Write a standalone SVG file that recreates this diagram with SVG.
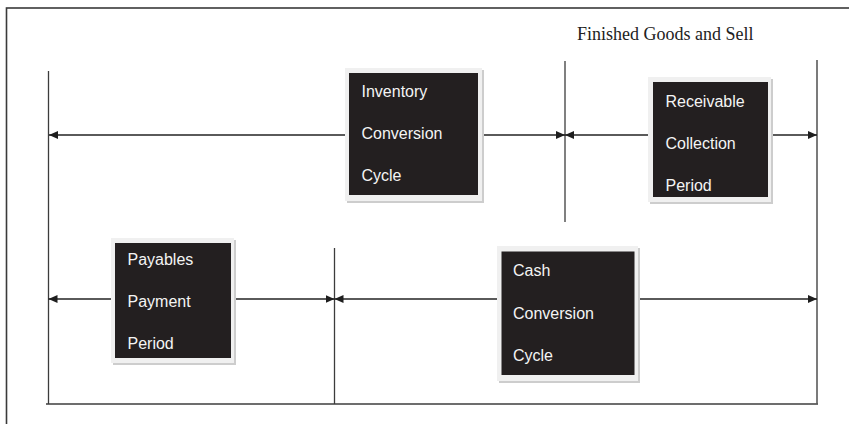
<svg xmlns="http://www.w3.org/2000/svg" width="849" height="424" viewBox="0 0 849 424">
<style>
.frame{fill:none;stroke:#3a3a3a;stroke-width:1.6}
.guide{fill:none;stroke:#3c3c3c;stroke-width:1.3}
.arrow{fill:none;stroke:#232323;stroke-width:1.5}
.halo{fill:#f0f0f0}
.shadow{fill:#cdcdcd}
.box{fill:#231f20}
.lbl{font-family:"Liberation Sans",Arial,sans-serif;font-size:16px;fill:#f4f4f4}
.title{font-family:"Liberation Serif","Times New Roman",serif;font-size:18px;fill:#222}
</style>
<defs>
<marker id="ah" markerUnits="userSpaceOnUse" markerWidth="10" markerHeight="9" refX="9" refY="4.5" orient="auto">
<path d="M0,0.5 L9,4.5 L0,8.5 z" fill="#1e1e1e"/>
</marker>
</defs>
<rect x="0" y="0" width="849" height="424" fill="#ffffff"/>
<rect class="frame" x="6.5" y="8" width="900" height="500"/>
<text class="title" x="577" y="40">Finished Goods and Sell</text>
<g id="guides">
<line class="guide" x1="48.5" y1="71" x2="48.5" y2="404"/>
<line class="guide" x1="46" y1="404" x2="818" y2="404"/>
<line class="guide" x1="817" y1="60" x2="817" y2="404" style="stroke:#5a5a5a;stroke-width:1.6"/>
<line class="guide" x1="565" y1="61" x2="565" y2="222"/>
<line class="guide" x1="334.5" y1="248" x2="334.5" y2="404"/>
</g>
<g id="connectors">
<line class="arrow" x1="347" y1="135" x2="49" y2="135" marker-end="url(#ah)"/>
<line class="arrow" x1="480" y1="135" x2="565" y2="135" marker-end="url(#ah)"/>
<line class="arrow" x1="651" y1="135" x2="565" y2="135" marker-end="url(#ah)"/>
<line class="arrow" x1="769" y1="135" x2="817" y2="135" marker-end="url(#ah)"/>
<line class="arrow" x1="113" y1="299" x2="48.5" y2="299" marker-end="url(#ah)"/>
<line class="arrow" x1="232" y1="299" x2="334.5" y2="299" marker-end="url(#ah)"/>
<line class="arrow" x1="499" y1="299" x2="334.5" y2="299" marker-end="url(#ah)"/>
<line class="arrow" x1="637" y1="299" x2="817" y2="299" marker-end="url(#ah)"/>
</g>
<g id="inventory">
<rect class="shadow" x="347" y="70" width="137" height="133"/>
<rect class="halo" x="345" y="68" width="137" height="133"/>
<rect class="box" x="349" y="73" width="129" height="122"/>
<text class="lbl" x="361.5" y="97">Inventory</text>
<text class="lbl" x="361.5" y="139">Conversion</text>
<text class="lbl" x="361.5" y="181">Cycle</text>
</g>
<g id="receivable">
<rect class="shadow" x="650" y="79" width="123" height="125"/>
<rect class="halo" x="648" y="77" width="123" height="125"/>
<rect class="box" x="653" y="82" width="115" height="115"/>
<text class="lbl" x="665.5" y="106.5">Receivable</text>
<text class="lbl" x="665.5" y="148.5">Collection</text>
<text class="lbl" x="665.5" y="190.5">Period</text>
</g>
<g id="payables">
<rect class="shadow" x="113" y="240" width="123" height="125"/>
<rect class="halo" x="111" y="238" width="123" height="125"/>
<rect class="box" x="115" y="243" width="116" height="115"/>
<text class="lbl" x="127.5" y="265">Payables</text>
<text class="lbl" x="127.5" y="307">Payment</text>
<text class="lbl" x="127.5" y="349">Period</text>
</g>
<g id="cash">
<rect class="shadow" x="499" y="248" width="141" height="135"/>
<rect class="halo" x="497" y="246" width="141" height="135"/>
<rect class="box" x="501.5" y="251.5" width="133" height="123.5"/>
<text class="lbl" x="513" y="276">Cash</text>
<text class="lbl" x="513" y="318.5">Conversion</text>
<text class="lbl" x="513" y="361">Cycle</text>
</g>
</svg>
